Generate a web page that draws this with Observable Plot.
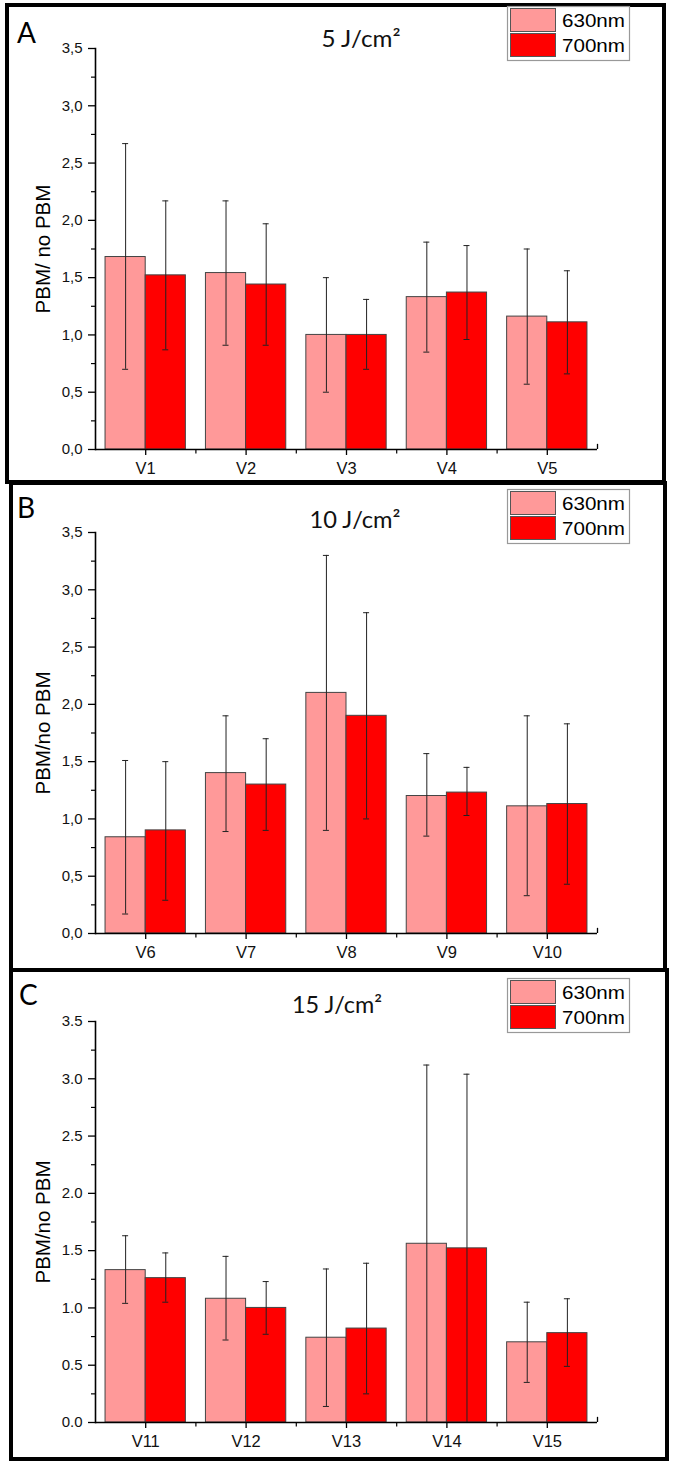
<!DOCTYPE html>
<html>
<head>
<meta charset="utf-8">
<script src="https://cdn.jsdelivr.net/npm/d3@7"></script>
<script src="https://cdn.jsdelivr.net/npm/@observablehq/plot@0.6"></script>
<style>
  body { margin: 0; background: #fff; }
  #root { position: relative; width: 673px; height: 1464px; overflow: hidden; background: #fff; }
  .panel { position: absolute; left: 0; width: 673px; }
  .panel svg { display: block; }
  #overlay { position: absolute; left: 0; top: 0; pointer-events: none; }
</style>
</head>
<body>
<div id="root"></div>
<script>
// ---------- data ----------
const panelLetters = ["A", "B", "C"];
const panelTitles = ["5 J/cm²", "10 J/cm²", "15 J/cm²"];
const yLabels = ["PBM/ no PBM", "PBM/no PBM", "PBM/no PBM"];
const decimalMarks = [",", ",", "."];
const seriesNames = ["630nm", "700nm"];
const seriesColors = ["#ff9999", "#ff0000"];

const categories = ["V1", "V2", "V3", "V4", "V5",
                    "V6", "V7", "V8", "V9", "V10",
                    "V11", "V12", "V13", "V14", "V15"];

const mean630 = [1.68, 1.54, 1.00, 1.33, 1.16,
                 0.84, 1.40, 2.10, 1.20, 1.11,
                 1.33, 1.08, 0.74, 1.56, 0.70];
const high630 = [2.67, 2.17, 1.50, 1.81, 1.75,
                 1.51, 1.90, 3.30, 1.57, 1.90,
                 1.63, 1.45, 1.34, 3.12, 1.05];
const low630  = [0.70, 0.91, 0.50, 0.85, 0.57,
                 0.17, 0.89, 0.90, 0.85, 0.33,
                 1.04, 0.72, 0.14, 0.00, 0.35];

const mean700 = [1.52, 1.44, 1.00, 1.37, 1.11,
                 0.90, 1.30, 1.90, 1.23, 1.13,
                 1.26, 1.00, 0.82, 1.52, 0.78];
const high700 = [2.17, 1.97, 1.31, 1.78, 1.56,
                 1.50, 1.70, 2.80, 1.45, 1.83,
                 1.48, 1.23, 1.39, 3.04, 1.08];
const low700  = [0.87, 0.91, 0.70, 0.96, 0.66,
                 0.29, 0.90, 1.00, 1.03, 0.43,
                 1.05, 0.77, 0.25, 0.00, 0.49];

const majorTicks = [0, 0.5, 1, 1.5, 2, 2.5, 3, 3.5];
const minorTicks = [0.25, 0.75, 1.25, 1.75, 2.25, 2.75, 3.25];

// ---------- layout ----------
const panelTop = [0, 483, 970];
const panelHeight = [483, 487, 494];
const marginTops = [48, 49, 51];
const zeroY = [449, 450, 452];
const ML = 95, MR = 76;
const FONT = "Liberation Sans, Arial, sans-serif";

const root = document.getElementById("root");

for (let p = 0; p < 3; p++) {
  const rows = d3.range(p * 5, p * 5 + 5).map(i => ({
    cat: categories[i],
    m630: mean630[i], h630: high630[i], l630: low630[i],
    m700: mean700[i], h700: high700[i], l700: low700[i]
  }));
  const cats = rows.map(d => d.cat);
  const bw = (673 - ML - MR) / cats.length;
  const fmt = d => d3.format(".1f")(d).replace(".", decimalMarks[p]);

  const chart = Plot.plot({
    width: 673,
    height: panelHeight[p],
    marginLeft: ML,
    marginRight: MR,
    marginTop: marginTops[p],
    marginBottom: panelHeight[p] - zeroY[p],
    style: { fontFamily: FONT, color: "#000", background: "transparent" },
    x: { domain: cats, padding: 0, round: false, label: null },
    y: { domain: [0, 3.5], label: null },
    marks: [
      Plot.barY(rows, { x: "cat", y: "m630", fill: seriesColors[0], stroke: "#444", strokeWidth: 1,
                        insetLeft: 0.1 * bw, insetRight: bw / 2 }),
      Plot.barY(rows, { x: "cat", y: "m700", fill: seriesColors[1], stroke: "#444", strokeWidth: 1,
                        insetLeft: bw / 2, insetRight: 0.1 * bw }),
      Plot.ruleX(rows, { x: "cat", y1: "l630", y2: "h630", dx: -0.2 * bw, stroke: "#222", strokeWidth: 1 }),
      Plot.ruleX(rows, { x: "cat", y1: "l700", y2: "h700", dx: 0.2 * bw, stroke: "#222", strokeWidth: 1 }),
      Plot.tickY(rows, { x: "cat", y: "h630", stroke: "#222", insetLeft: 0.3 * bw - 3, insetRight: 0.7 * bw - 3 }),
      Plot.tickY(rows.filter(d => d.l630 > 0), { x: "cat", y: "l630", stroke: "#222", insetLeft: 0.3 * bw - 3, insetRight: 0.7 * bw - 3 }),
      Plot.tickY(rows, { x: "cat", y: "h700", stroke: "#222", insetLeft: 0.7 * bw - 3, insetRight: 0.3 * bw - 3 }),
      Plot.tickY(rows.filter(d => d.l700 > 0), { x: "cat", y: "l700", stroke: "#222", insetLeft: 0.7 * bw - 3, insetRight: 0.3 * bw - 3 }),
      // minor ticks at category boundaries and end tick
      Plot.ruleX(cats.slice(1), { x: d => d, dx: -bw / 2, y1: 0, y2: -0.04, stroke: "#000", strokeWidth: 1.2 }),
      Plot.ruleX(cats.slice(-1), { x: d => d, dx: bw / 2, y1: 0, y2: 0.045, stroke: "#000", strokeWidth: 1.3 }),
      Plot.ruleY([0], { stroke: "#000", strokeWidth: 1.6 }),
      Plot.frame({ anchor: "left", stroke: "#000", strokeWidth: 1.6 }),
      Plot.axisY({ ticks: majorTicks, tickSize: 7, tickPadding: 6, tickFormat: fmt, strokeWidth: 1.3,
                   fontSize: 15, fill: "#111" }),
      Plot.axisY({ ticks: minorTicks, tickSize: 4, tickFormat: () => "", strokeWidth: 1.2 }),
      Plot.axisX({ tickSize: 6, tickPadding: 7, label: null, strokeWidth: 1.3, fontSize: 16.5, fill: "#111" }),
      Plot.text([yLabels[p]], { frameAnchor: "left", textAnchor: "middle", dx: -52, rotate: -90,
                                fill: "#000", fontSize: 20.5, fontFamily: FONT })
    ]
  });

  const div = document.createElement("div");
  div.className = "panel";
  div.style.top = panelTop[p] + "px";
  div.style.height = panelHeight[p] + "px";
  div.appendChild(chart);
  root.appendChild(div);
}

// ---------- overlay: frames, panel letters, titles, legends ----------
const ns = "http://www.w3.org/2000/svg";
const ov = document.createElementNS(ns, "svg");
ov.setAttribute("id", "overlay");
ov.setAttribute("width", 673);
ov.setAttribute("height", 1464);
root.appendChild(ov);
const sel = d3.select(ov);

const frames = [
  { x: 7, y: 5, w: 657, h: 477 },
  { x: 11, y: 483, w: 654, h: 487 },
  { x: 11, y: 970, w: 656, h: 489 }
];
const letterPos = [[17, 43], [17, 518], [19, 1005]];
const titlePos = [[361, 47, 79], [355, 528, 91], [337, 1013, 90]];
const legendTop = [6, 489, 978];

for (let p = 0; p < 3; p++) {
  const f = frames[p];
  sel.append("rect").attr("x", f.x).attr("y", f.y).attr("width", f.w).attr("height", f.h)
    .attr("fill", "none").attr("stroke", "#000").attr("stroke-width", 4);

  sel.append("text").attr("x", letterPos[p][0]).attr("y", letterPos[p][1])
    .attr("font-family", "Lato, sans-serif").attr("font-size", 28).attr("fill", "#000")
    .text(panelLetters[p]);

  sel.append("text").attr("x", titlePos[p][0]).attr("y", titlePos[p][1])
    .attr("text-anchor", "middle")
    .attr("font-family", "Lato, sans-serif").attr("font-size", 23).attr("fill", "#111")
    .attr("textLength", titlePos[p][2]).attr("lengthAdjust", "spacingAndGlyphs")
    .text(panelTitles[p]);

  const ly = legendTop[p];
  const g = sel.append("g");
  g.append("rect").attr("x", 507.5).attr("y", ly + 0.5).attr("width", 122).attr("height", 54)
    .attr("fill", "#fff").attr("stroke", "#999").attr("stroke-width", 1.2);
  seriesNames.forEach((name, k) => {
    g.append("rect").attr("x", 510.5).attr("y", ly + 2.5 + k * 25).attr("width", 45).attr("height", 23)
      .attr("fill", seriesColors[k]).attr("stroke", "#555").attr("stroke-width", 1);
    g.append("text").attr("x", 562).attr("y", ly + 21 + k * 25)
      .attr("font-family", FONT).attr("font-size", 19).attr("fill", "#000")
      .attr("textLength", 63).attr("lengthAdjust", "spacingAndGlyphs")
      .text(name);
  });
}
</script>
</body>
</html>
